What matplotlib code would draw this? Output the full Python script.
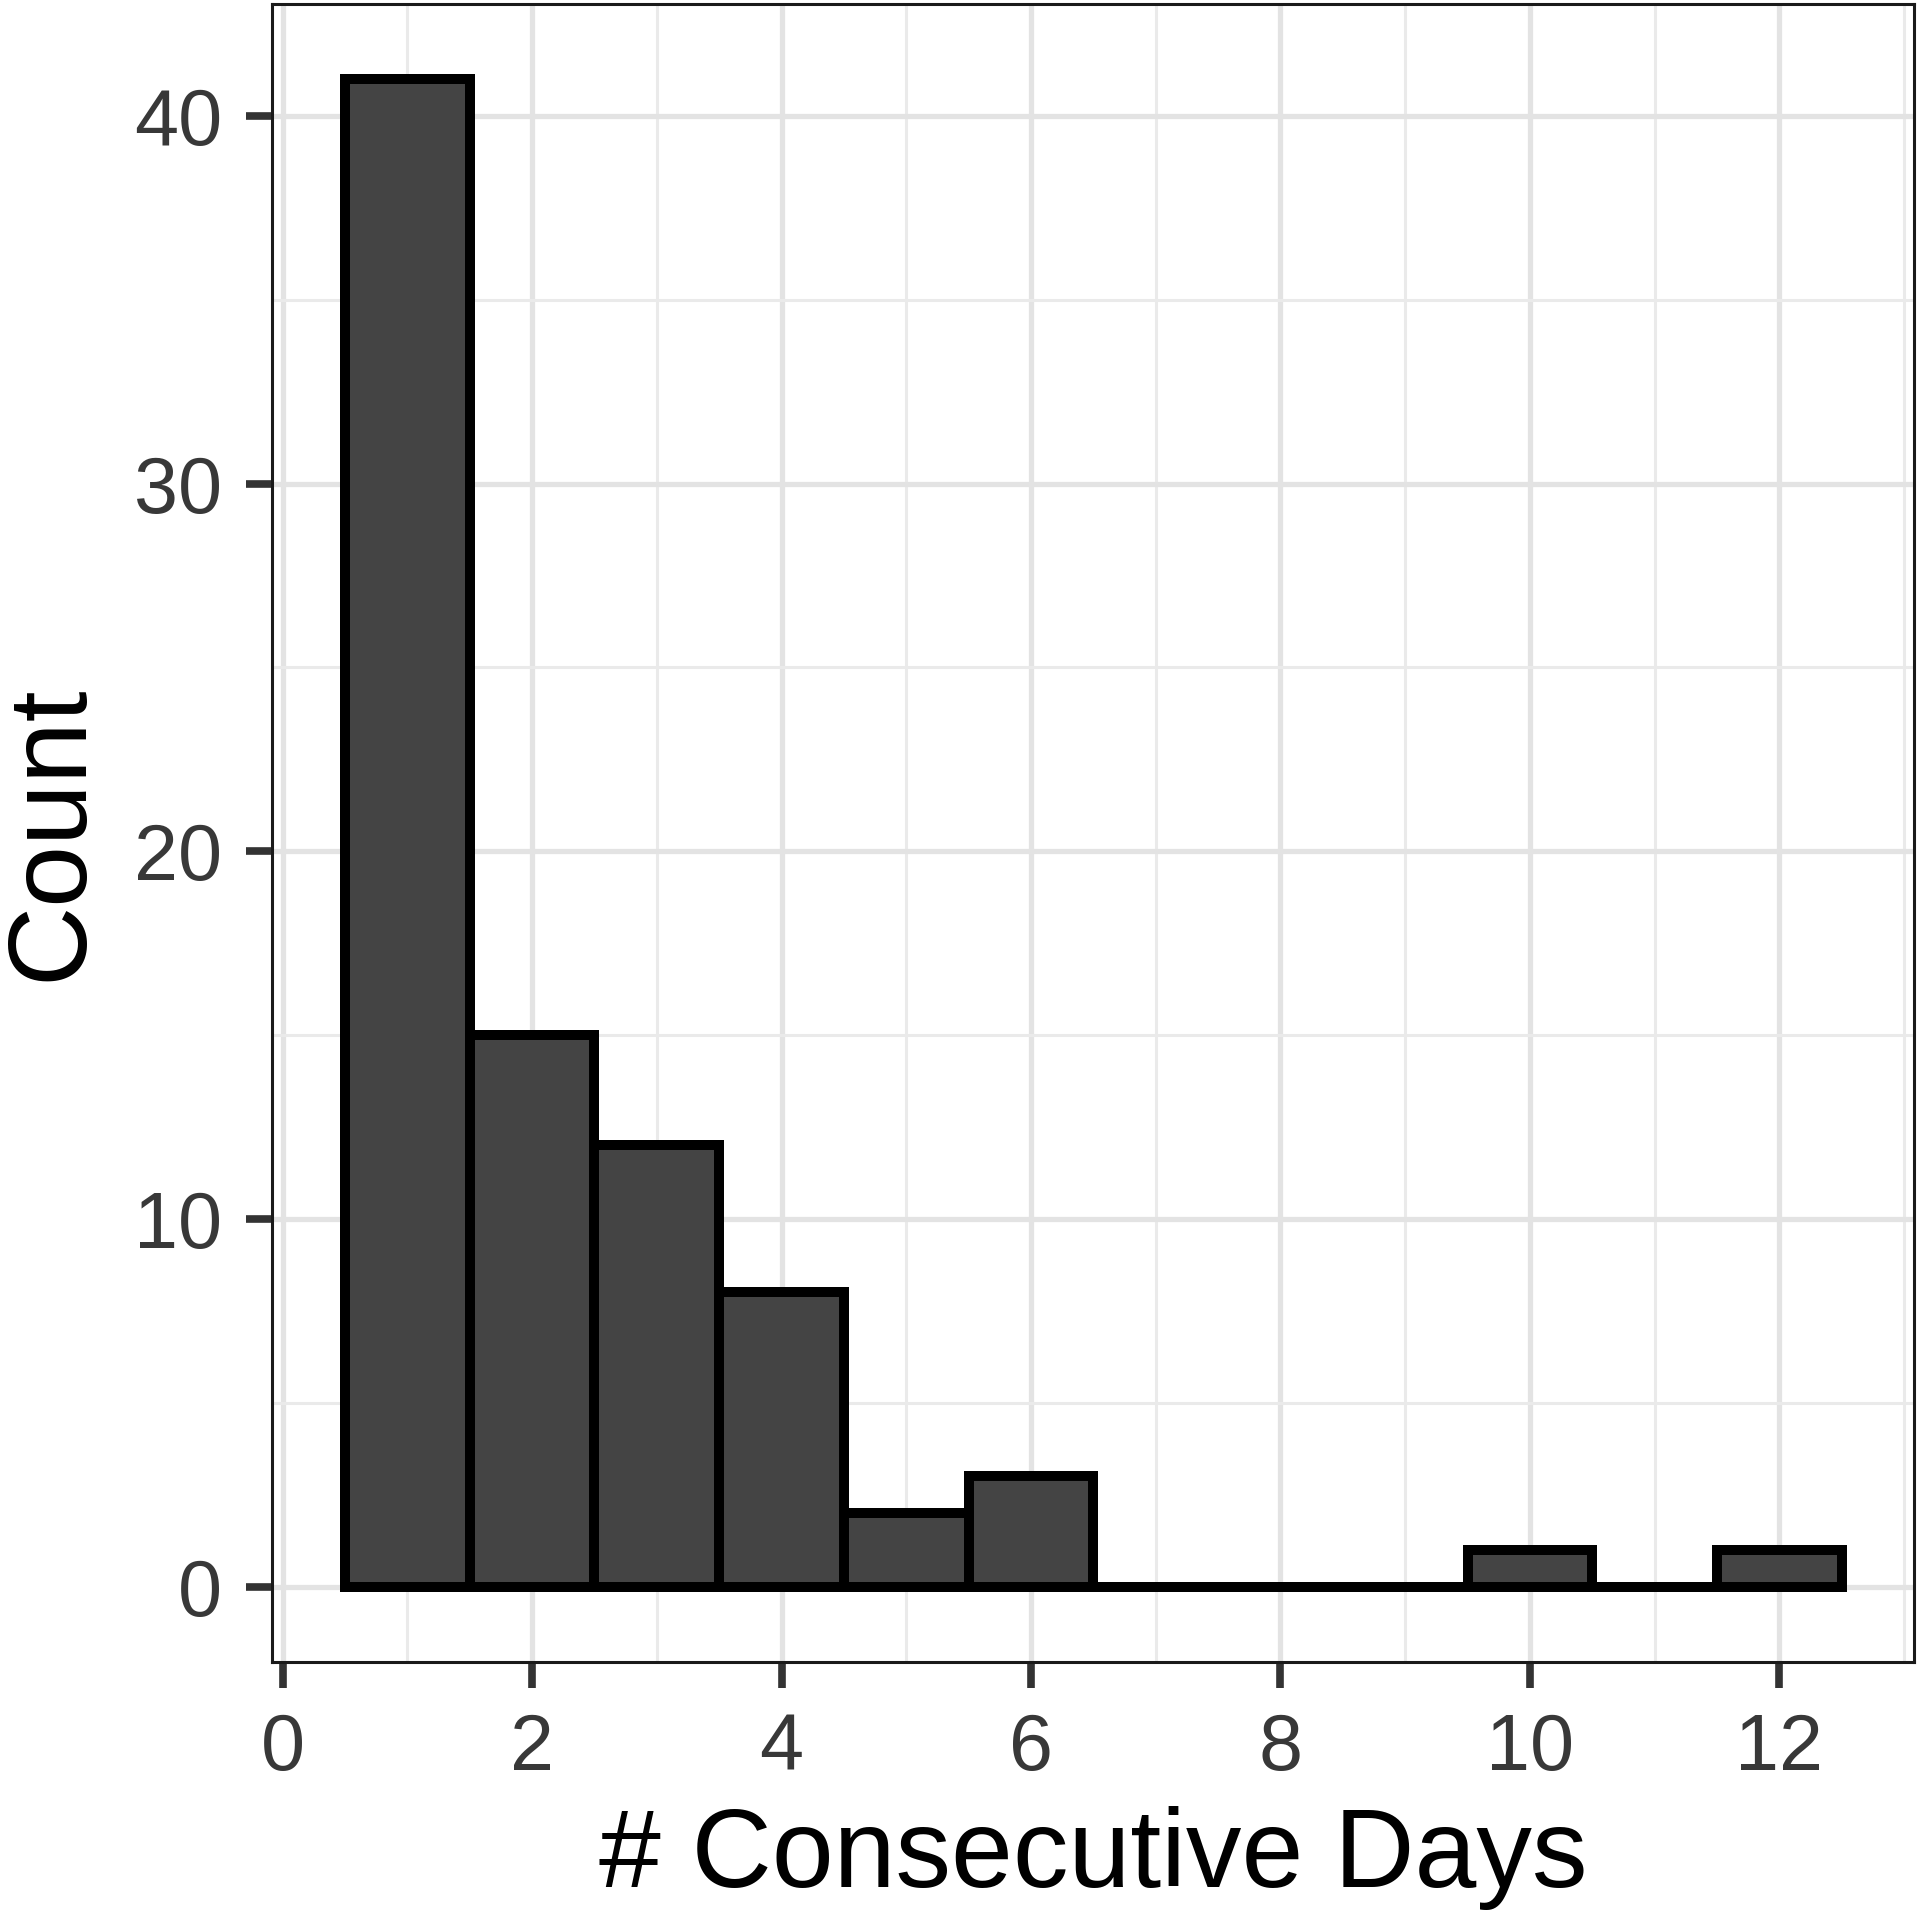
import numpy as np
import matplotlib
matplotlib.use('Agg')
import matplotlib.pyplot as plt
from matplotlib.ticker import MultipleLocator

plt.rcParams['font.family'] = ['Liberation Sans', 'DejaVu Sans']

# histogram bins (consecutive days) and counts
days = [1, 2, 3, 4, 5, 6, 7, 8, 9, 10, 11, 12]
counts = [41, 15, 12, 8, 2, 3, 0, 0, 0, 1, 0, 1]
x_ticks = [0, 2, 4, 6, 8, 10, 12]
y_ticks = [0, 10, 20, 30, 40]

fig = plt.figure(figsize=(19.2, 19.18), dpi=100)
ax = fig.add_axes([0.1417, 0.1335, 0.9969 - 0.1417, 0.998 - 0.1335])

ax.bar(days, counts, width=1.0, color='#444444', edgecolor='black',
       linewidth=7.2, joinstyle='miter', zorder=3)

ax.set_xlim(-0.085, 13.08)
ax.set_ylim(-2.05, 43.05)
ax.set_xticks(x_ticks)
ax.set_yticks(y_ticks)
ax.xaxis.set_minor_locator(MultipleLocator(1))
ax.yaxis.set_minor_locator(MultipleLocator(5))

ax.grid(True, which='major', color='#E3E3E3', linewidth=3.8, zorder=0)
ax.grid(True, which='minor', color='#EAEAEA', linewidth=2.2, zorder=0)
ax.set_axisbelow(True)

for s in ax.spines.values():
    s.set_linewidth(2.2)
    s.set_color('#1a1a1a')

ax.tick_params(which='major', length=19, width=5.5, color='#333333',
               labelsize=57, labelcolor='#383838', pad=17)
ax.tick_params(which='minor', length=0)

ax.set_xlabel('# Consecutive Days', fontsize=80, va='center')
ax.set_ylabel('Count', fontsize=80, va='center')
ax.xaxis.set_label_coords(0.5, -0.118)
ax.yaxis.set_label_coords(-0.1335, 0.5)

fig.savefig('out.png', dpi=100)
